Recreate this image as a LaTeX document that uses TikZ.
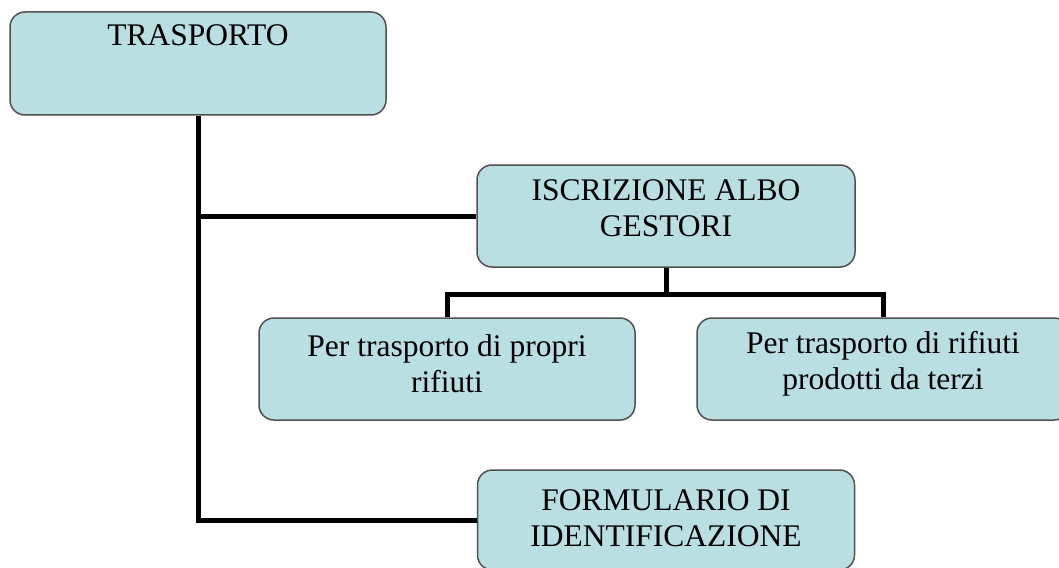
\documentclass[tikz,border=0pt]{standalone}
\usepackage{fontspec}
\setmainfont{Liberation Serif}
\usetikzlibrary{calc}
\definecolor{boxfill}{RGB}{186,223,227}
\definecolor{boxline}{RGB}{80,80,80}
\begin{document}
\begin{tikzpicture}[x=1pt,y=-1pt,
  box/.style={draw=boxline, line width=1.5pt, fill=boxfill, rounded corners=15pt, inner sep=0pt},
  boxtext/.style={align=center, font=\fontsize{31.5}{36}\selectfont, inner sep=0pt},
  conn/.style={line width=5pt, draw=black, line join=miter}]
\useasboundingbox (0,0) rectangle (1059,567);
\clip (0,0) rectangle (1059,567);
\fill[white] (0,0) rectangle (1059,567);
\node[box, minimum width=376pt, minimum height=103pt,
  label={[boxtext, anchor=north, yshift=-13pt]north:TRASPORTO}]
  (T) at (198,63.5) {};
\node[box, minimum width=378pt, minimum height=102pt,
  label={[boxtext, yshift=8pt]center:ISCRIZIONE ALBO\\GESTORI}] (I) at (666,216) {};
\node[box, minimum width=376pt, minimum height=102pt,
  label={[boxtext, yshift=5pt]center:Per trasporto di propri\\rifiuti}] (L) at (447,369) {};
\node[box, minimum width=372pt, minimum height=102pt,
  label={[boxtext, yshift=5pt]center:Per trasporto di rifiuti\\prodotti da terzi}] (R) at (883,369) {};
\node[box, minimum width=377pt, minimum height=100pt,
  label={[boxtext, yshift=2pt]center:FORMULARIO DI\\IDENTIFICAZIONE}] (F) at (666,520) {};
\coordinate (bus) at ($(I.south)+(0,27)$);
\draw[conn] (T.south) |- (F.west);
\draw[conn] (T.south |- I.west) -- (I.west);
\draw[conn] (I.south) -- (bus);
\draw[conn] (L.north) |- (bus) -| (R.north);
\end{tikzpicture}
\end{document}
